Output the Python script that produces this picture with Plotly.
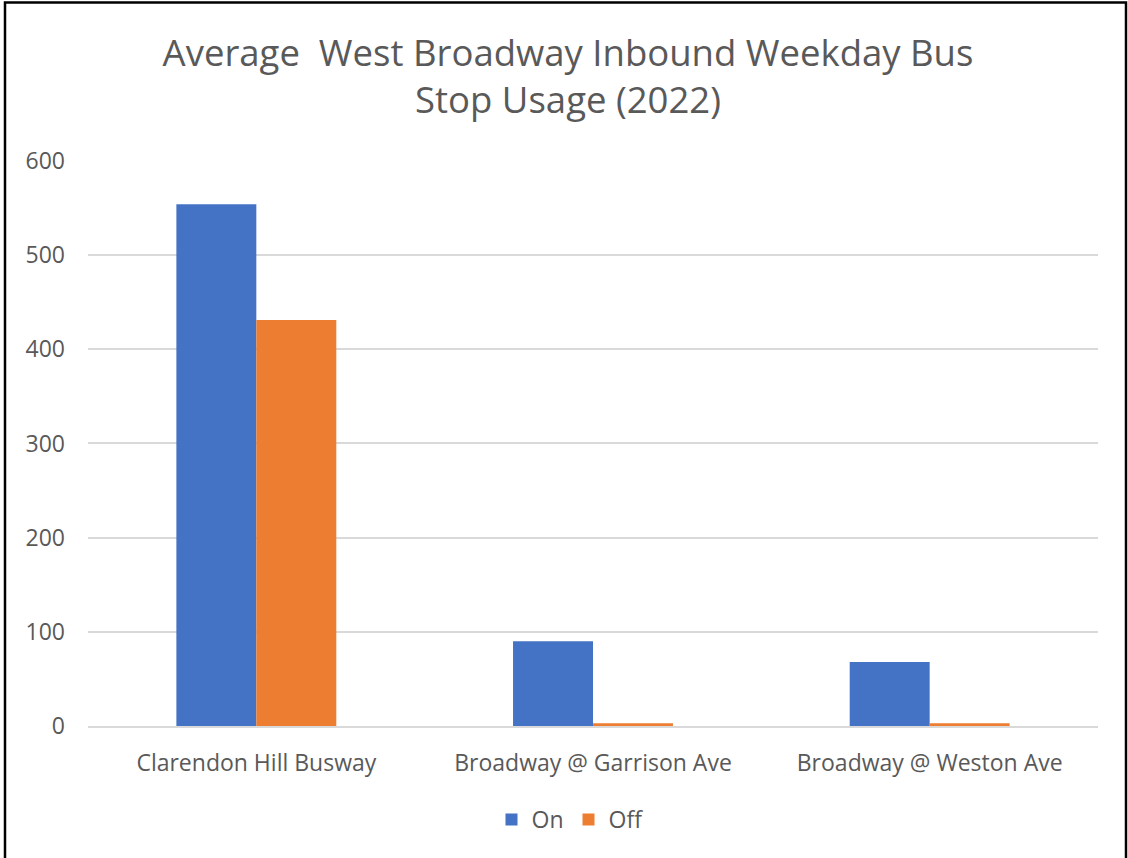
import plotly.graph_objects as go

categories = ["Clarendon Hill Busway", "Broadway @ Garrison Ave", "Broadway @ Weston Ave"]
on_values = [554, 90, 68]
off_values = [431, 3, 3]
series_names = ["On", "Off"]
y_ticks = [0, 100, 200, 300, 400, 500, 600]

W, H = 1128, 858
Y_MAX = 601
L, R = 88, 30
B = H - 726.5
T = 161 - (Y_MAX - 600) * (726.5 - 161) / 600
pw, ph = W - L - R, H - T - B

def px_to_paper_x(x):
    return (x - L) / pw

def px_to_paper_y(y):
    return (H - B - y) / ph

FONT = "Open Sans"
TXT = "#595959"

fig = go.Figure()
fig.add_trace(go.Bar(x=categories, y=on_values, name=series_names[0],
                     marker=dict(color="#4472C4", line=dict(width=0))))
fig.add_trace(go.Bar(x=categories, y=off_values, name=series_names[1],
                     marker=dict(color="#ED7D31", line=dict(width=0))))

fig.update_layout(
    width=W, height=H,
    margin=dict(l=L, r=R, t=T, b=B, pad=0),
    paper_bgcolor="white", plot_bgcolor="white",
    barmode="group", bargap=0.525, bargroupgap=0,
    font=dict(family=FONT, color=TXT, size=23),
    title=dict(
        text="Average  West Broadway Inbound Weekday Bus<br>Stop Usage (2022)",
        x=568 / W, xanchor="center", xref="container",
        y=1 - 66 / H, yanchor="top", yref="container",
        font=dict(family=FONT, size=36.5, color=TXT),
    ),
    showlegend=True,
    legend=dict(
        orientation="h", x=px_to_paper_x(570), xanchor="center",
        y=px_to_paper_y(820), yanchor="middle",
        font=dict(family=FONT, size=23, color=TXT),
        itemwidth=30, traceorder="normal",
    ),
    xaxis=dict(
        showgrid=False, showline=True, linecolor="#D9D9D9", linewidth=1.5,
        ticks="", tickfont=dict(family=FONT, size=23, color=TXT),
        ticklabelstandoff=16,
    ),
    yaxis=dict(
        range=[0, Y_MAX], tickvals=y_ticks, showgrid=True, gridcolor="#D9D9D9",
        gridwidth=1.5, zeroline=False, showline=False, ticks="",
        tickfont=dict(family=FONT, size=23, color=TXT),
        ticklabelstandoff=22,
    ),
    shapes=[dict(
        type="rect", xref="paper", yref="paper",
        x0=px_to_paper_x(5), x1=px_to_paper_x(1126),
        y0=px_to_paper_y(875), y1=px_to_paper_y(2.5),
        line=dict(color="black", width=2.5), fillcolor="rgba(0,0,0,0)", layer="above",
    )],
)

fig.write_html(
    "out.html",
    config={"displayModeBar": False},
    post_script="document.body.style.margin='0px';document.body.style.padding='0px';",
)
